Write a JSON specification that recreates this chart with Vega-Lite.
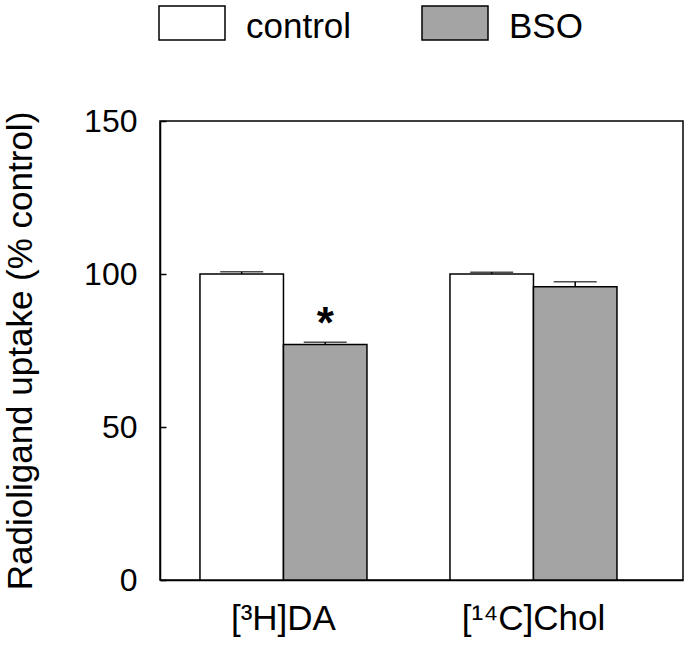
{
  "$schema": "https://vega.github.io/schema/vega-lite/v6.json",
  "autosize": "none",
  "width": 523,
  "height": 459,
  "padding": {"left": 160, "top": 121, "right": 8, "bottom": 67},
  "background": "white",
  "config": {
    "font": "Liberation Sans",
    "view": {"stroke": "black", "strokeWidth": 1.5},
    "axis": {"labelColor": "black", "titleColor": "black", "domainColor": "black", "tickColor": "black", "grid": false, "labelFont": "Liberation Sans", "titleFont": "Liberation Sans", "titleFontWeight": "normal", "domainWidth": 1.5, "tickWidth": 1.5}
  },
  "data": {
    "values": [
      {"compound": "[³H]DA", "group": "control", "value": 100, "upper": 100.7},
      {"compound": "[³H]DA", "group": "BSO", "value": 77, "upper": 77.7, "sig": "*"},
      {"compound": "[¹⁴C]Chol", "group": "control", "value": 100, "upper": 100.6},
      {"compound": "[¹⁴C]Chol", "group": "BSO", "value": 95.8, "upper": 97.5}
    ]
  },
  "encoding": {
    "x": {
      "field": "compound", "type": "nominal", "sort": ["[³H]DA", "[¹⁴C]Chol"],
      "scale": {"paddingInner": 0.332, "paddingOuter": 0.212, "align": 0.377},
      "axis": {"title": null, "labelAngle": 0, "labelFontSize": 35, "ticks": false, "labelPadding": 21, "domain": true}
    },
    "xOffset": {"field": "group", "type": "nominal", "sort": ["control", "BSO"], "scale": {"paddingInner": 0, "paddingOuter": 0}}
  },
  "resolve": {"axis": {"y": "independent"}},
  "layer": [
    {
      "mark": {"type": "bar", "stroke": "black", "strokeWidth": 1.5},
      "encoding": {
        "y": {
          "field": "value", "type": "quantitative",
          "scale": {"domain": [0, 150], "nice": false},
          "axis": {"orient": "left", "title": "Radioligand uptake (% control)", "titleFontSize": 35, "values": [0, 50, 100, 150], "labelFontSize": 32, "ticks": false, "labelPadding": 23, "titlePadding": 45}
        },
        "fill": {
          "field": "group", "type": "nominal",
          "scale": {"domain": ["control", "BSO"], "range": ["#ffffff", "#a4a4a4"]},
          "legend": {
            "title": null, "orient": "none", "legendX": -2, "legendY": -128, "direction": "horizontal",
            "labelFontSize": 35, "labelColor": "black", "labelFont": "Liberation Sans",
            "symbolType": "M-1,-0.636H1V0.394H-1Z", "symbolSize": 4356,
            "symbolStrokeColor": "black", "symbolStrokeWidth": 1.5, "symbolOpacity": 1,
            "columnPadding": 67, "labelOffset": 20, "padding": 0
          }
        }
      }
    },
    {
      "mark": {"type": "rule", "color": "black", "strokeWidth": 1.5},
      "encoding": {
        "y": {
          "field": "value", "type": "quantitative",
          "scale": {"domain": [0, 150], "nice": false},
          "axis": {"orient": "right", "offset": -523, "title": null, "labels": false, "domain": false, "values": [0, 50, 100, 150], "tickSize": 6}
        },
        "y2": {"field": "upper"}
      }
    },
    {
      "mark": {"type": "tick", "color": "black", "thickness": 1.5, "size": 43},
      "encoding": {
        "y": {"field": "upper", "type": "quantitative", "scale": {"domain": [0, 150], "nice": false}, "axis": null}
      }
    },
    {
      "transform": [{"filter": "datum.sig"}],
      "mark": {"type": "text", "fontSize": 44, "fontWeight": "bold", "color": "black", "baseline": "alphabetic", "dy": -4},
      "encoding": {
        "y": {"field": "upper", "type": "quantitative", "scale": {"domain": [0, 150], "nice": false}, "axis": null},
        "text": {"field": "sig"}
      }
    }
  ]
}
